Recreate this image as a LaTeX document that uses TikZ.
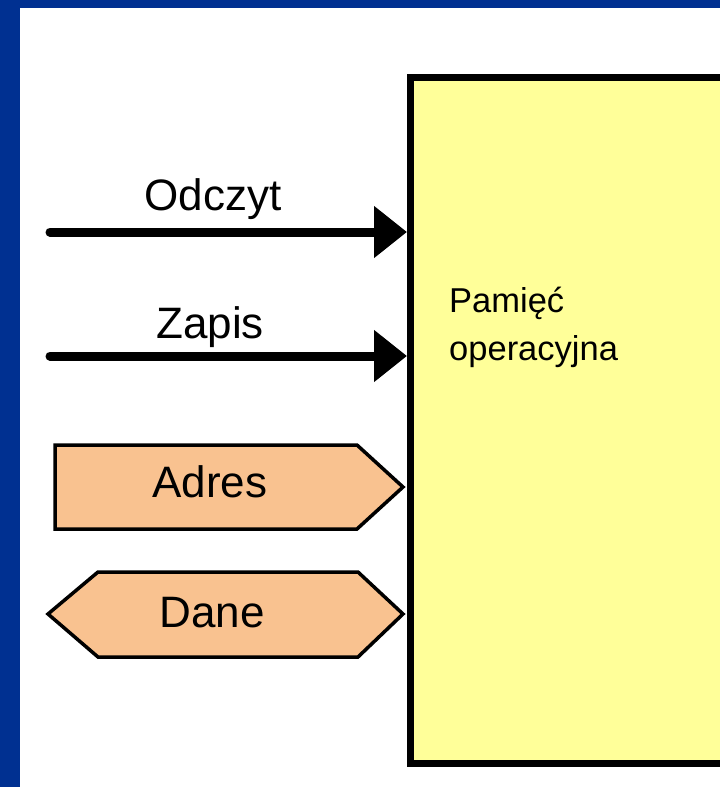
\documentclass[tikz,border=0pt]{standalone}
\usepackage{fontspec}
\setmainfont{Liberation Sans}
\usetikzlibrary{arrows.meta}
\definecolor{frameblue}{RGB}{0,48,145}
\definecolor{memyellow}{RGB}{255,255,153}
\definecolor{buspeach}{RGB}{249,194,144}
\tikzset{
  memblock/.style={draw=black, line width=7pt, fill=memyellow, rectangle,
    minimum width=340pt, minimum height=686pt, anchor=north west, inner sep=0pt},
  ctrlline/.style={line width=9pt, line cap=round,
    -{Triangle[length=33pt,width=50pt]}},
  bus/.style={draw=black, line width=3.5pt, fill=buspeach, line join=miter},
  siglabel/.style={font=\fontsize{44}{48}\selectfont, anchor=base, inner sep=0pt},
  memlabel/.style={font=\fontsize{34.5}{48}\selectfont, anchor=base west,
    align=left, inner sep=0pt}
}
\begin{document}
\begin{tikzpicture}[x=1pt,y=-1pt]
  \useasboundingbox (0,0) rectangle (720,787);
  \clip (0,0) rectangle (720,787);
  % page background and frame
  \fill[white] (0,0) rectangle (720,787);
  \fill[frameblue] (0,0) rectangle (720,8);
  \fill[frameblue] (0,0) rectangle (20,787);

  % memory block (base anchor of the two-line label sits on its last line)
  \node[memblock] (mem) at (407,74) {};
  \node[memlabel] (memtext) at (449,360) {Pamięć\\operacyjna};

  % control lines
  \coordinate (rdstart) at (50,232);
  \coordinate (wrstart) at (50,356);
  \draw[ctrlline] (rdstart) -- (rdstart -| mem.west);
  \draw[ctrlline] (wrstart) -- (wrstart -| mem.west);
  \node[siglabel] (rdlabel) at (213,210) {Odczyt};
  \node[siglabel] (wrlabel) at (210,338) {Zapis};

  % address bus (into memory)
  \draw[bus] (55,445) -- (357,445) -- (403,487) -- (357,529) -- (55,529) -- cycle;
  \node[siglabel] (adrlabel) at (210,497) {Adres};

  % data bus (both directions)
  \draw[bus] (48,614) -- (98,572) -- (358,572) -- (403,614) -- (358,657) -- (98,657) -- cycle;
  \node[siglabel] (datlabel) at (212,627) {Dane};
\end{tikzpicture}
\end{document}
